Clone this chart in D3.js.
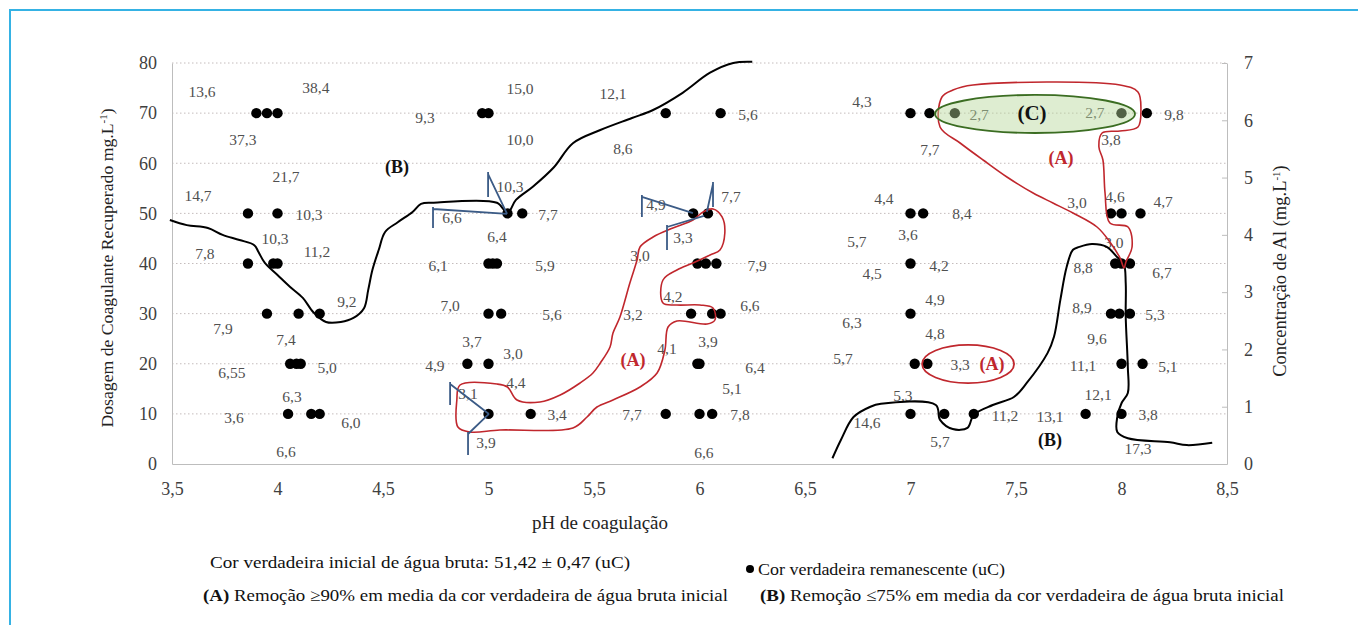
<!DOCTYPE html>
<html lang="pt">
<head>
<meta charset="utf-8">
<title>pH de coagulação x dosagem</title>
<script src="https://cdn.jsdelivr.net/npm/d3@7"></script>
<style>
  body { margin:0; background:#fff; }
</style>
</head>
<body>
<script>
// dose levels and pH of each jar test point (cor verdadeira remanescente)
var doses = [70, 50, 40, 30, 20, 10];
var ph70 = [3.90, 3.95, 4.00, 4.97, 5.00, 5.84, 6.10, 7.00, 7.09, 7.21, 8.00, 8.12];
var ph50 = [3.86, 4.00, 5.09, 5.16, 5.97, 6.04, 7.00, 7.06, 7.95, 8.00, 8.09];
var ph40 = [3.86, 3.98, 4.00, 5.00, 5.02, 5.04, 5.99, 6.03, 6.08, 7.00, 7.97, 8.00, 8.04];
var ph30 = [3.95, 4.10, 4.20, 5.00, 5.06, 5.96, 6.06, 6.10, 7.00, 7.95, 7.99, 8.04];
var ph20 = [4.06, 4.09, 4.11, 4.90, 5.00, 5.99, 6.00, 7.02, 7.08, 8.00, 8.10];
var ph10 = [4.05, 4.16, 4.20, 5.00, 5.20, 5.84, 6.00, 6.06, 7.00, 7.16, 7.30, 7.83, 8.00];

// value labels [pH, dose, text]
var colorLabels = [
  [3.642,74.41,"13,6"],[4.182,75.21,"38,4"],[3.836,64.64,"37,3"],[4.040,57.26,"21,7"],
  [3.623,53.47,"14,7"],[4.149,49.68,"10,3"],[3.988,44.89,"10,3"],[3.656,42.09,"7,8"],
  [4.187,42.49,"11,2"],[4.329,32.32,"9,2"],[3.742,27.13,"7,9"],[4.040,24.74,"7,4"],
  [3.784,18.35,"6,55"],[4.235,19.35,"5,0"],[4.069,13.37,"6,3"],[3.794,9.18,"3,6"],
  [4.348,8.18,"6,0"],[4.040,2.59,"6,6"],
  [4.699,69.03,"9,3"],[5.149,75.01,"15,0"],[5.149,64.64,"10,0"],[5.102,55.46,"10,3"],
  [4.827,49.08,"6,6"],[5.282,49.68,"7,7"],[5.040,45.29,"6,4"],[4.761,39.70,"6,1"],
  [5.268,39.70,"5,9"],[4.818,31.72,"7,0"],[5.301,29.73,"5,6"],[4.922,24.34,"3,7"],
  [5.116,22.14,"3,0"],[4.746,19.75,"4,9"],[5.130,16.16,"4,4"],[4.903,13.97,"3,1"],
  [5.325,9.78,"3,4"],[4.988,4.19,"3,9"],
  [5.590,74.01,"12,1"],[6.230,69.63,"5,6"],[5.637,63.04,"8,6"],[5.794,51.87,"4,9"],
  [6.149,53.27,"7,7"],[5.922,45.09,"3,3"],[5.718,41.50,"3,0"],[6.273,39.70,"7,9"],
  [5.874,33.32,"4,2"],[6.239,31.72,"6,6"],[5.685,29.73,"3,2"],[5.846,23.14,"4,1"],
  [6.040,24.34,"3,9"],[6.263,19.35,"6,4"],[6.154,15.16,"5,1"],[5.680,9.78,"7,7"],
  [6.192,9.78,"7,8"],[6.021,2.39,"6,6"],
  [6.770,72.22,"4,3"],[7.325,69.63,"2,7"],[7.874,70.22,"2,7"],[8.249,69.63,"9,8"],
  [7.092,62.84,"7,7"],[7.950,64.64,"3,8"],[6.874,52.87,"4,4"],[7.244,49.88,"8,4"],
  [7.789,52.07,"3,0"],[7.969,53.27,"4,6"],[8.197,52.27,"4,7"],[6.746,44.29,"5,7"],
  [6.988,45.69,"3,6"],[7.964,44.09,"3,0"],[6.818,37.91,"4,5"],[7.135,39.70,"4,2"],
  [7.116,32.72,"4,9"],[6.723,28.13,"6,3"],[7.116,26.13,"4,8"],[6.680,20.95,"5,7"],
  [7.235,19.95,"3,3"],[6.964,13.57,"5,3"],[6.794,8.18,"14,6"],[7.448,9.58,"11,2"],
  [7.140,4.39,"5,7"],[7.818,39.30,"8,8"],[8.192,38.30,"6,7"],[7.813,31.32,"8,9"],
  [8.159,29.73,"5,3"],[7.884,24.94,"9,6"],[7.818,19.75,"11,1"],[8.220,19.55,"5,1"],
  [7.889,13.77,"12,1"],[7.661,9.38,"13,1"],[8.126,9.78,"3,8"],[8.078,3.19,"17,3"]
];

// region tags [pH, dose, text, colour]
var regionTags = [
  [4.566,59.25,"(B)","#111"],[5.685,20.75,"(A)","#c0272d"],[7.576,70.03,"(C)","#111"],
  [7.713,61.05,"(A)","#c0272d"],[7.386,19.95,"(A)","#c0272d"],[7.661,4.79,"(B)","#111"]
];

// Al concentration curves [pH, Al mg/L]
var alCurve1 = [[3.49,4.26],[3.57,4.17],[3.67,4.12],[3.74,4.00],[3.82,3.91],[3.89,3.82],
  [3.91,3.70],[3.94,3.51],[4.00,3.30],[4.06,3.09],[4.12,2.90],[4.17,2.65],[4.23,2.48],
  [4.30,2.48],[4.36,2.55],[4.41,2.72],[4.43,3.04],[4.45,3.39],[4.48,3.74],[4.51,4.05],
  [4.57,4.22],[4.64,4.40],[4.68,4.54],[4.74,4.56],[5.04,4.56],[5.09,4.38],[5.13,4.61],
  [5.21,4.84],[5.31,5.18],[5.40,5.60],[5.53,5.83],[5.68,6.04],[5.78,6.18],[5.92,6.48],
  [6.05,6.83],[6.16,7.00],[6.25,7.02]];
var alCurve2 = [[6.63,0.10],[6.67,0.42],[6.73,0.82],[6.81,1.00],[6.86,1.05],[7.12,1.03],
  [7.14,0.77],[7.20,0.61],[7.27,0.63],[7.30,0.86],[7.39,1.03],[7.49,1.17],[7.55,1.41],
  [7.65,1.94],[7.68,2.22],[7.71,2.86],[7.74,3.44],[7.77,3.74],[7.80,3.79],[7.86,3.84],
  [7.93,3.79],[7.98,3.61],[8.01,3.51],[8.02,3.16],[8.02,2.57],[8.03,1.69],[8.03,1.24],
  [8.00,1.06],[7.98,0.82],[7.98,0.56],[8.03,0.45],[8.23,0.38],[8.31,0.33],[8.43,0.37]];

// hand drawn outlines of region (A) [pH, dose]
var regionA1 = [[4.865,15.76],[5.04,15.96],[5.09,15.36],[5.135,12.77],[5.244,12.37],
  [5.34,13.77],[5.434,16.16],[5.495,18.15],[5.53,20.15],[5.576,23.34],[5.59,26.13],
  [5.623,29.33],[5.67,36.11],[5.704,40.70],[5.718,43.29],[5.78,45.29],[5.874,47.08],
  [5.969,48.68],[6.017,50.27],[6.064,50.87],[6.107,49.28],[6.12,46.08],[6.097,42.69],
  [6.05,41.7],[5.969,40.10],[5.893,38.70],[5.827,36.71],[5.827,32.12],[5.893,31.72],
  [6.002,31.72],[6.064,31.12],[6.073,28.73],[6.036,27.93],[5.893,28.53],[5.851,27.33],
  [5.836,22.74],[5.799,18.15],[5.718,15.36],[5.59,12.77],[5.514,11.37],[5.467,9.38],
  [5.40,7.18],[5.054,6.78],[4.912,6.38],[4.855,7.38],[4.85,12.77]];
var regionA2 = [[7.296,75.61],[7.993,75.61],[8.078,74.21],[8.092,70.62],[8.078,67.23],
  [7.993,66.43],[7.908,66.03],[7.893,63.24],[7.912,60.65],[7.922,54.06],[7.945,48.08],
  [8.031,47.28],[8.05,43.29],[8.021,40.30],[8.012,39.10],[7.993,41.10],[7.945,44.29],
  [7.884,47.28],[7.770,50.07],[7.675,52.07],[7.581,54.06],[7.457,57.26],[7.344,60.65],
  [7.235,64.04],[7.140,67.23],[7.149,73.22],[7.201,74.61]];
// ellipses [pH, dose, half width pH, half height dose]
var ellipseA = [7.273, 19.95, 0.218, 3.8];
var ellipseC = [7.590, 69.83, 0.474, 3.8];

// blue markers: [[tick top],[tick bottom],[arm end at dot]]
var blueMarks = [
  [[4.737,51.27],[4.737,47.08],[5.088,49.88]],
  [[4.998,58.25],[4.998,53.27],[5.088,49.88]],
  [[5.727,53.67],[5.727,49.28],[5.969,50.07]],
  [[5.846,47.68],[5.846,42.69],[6.021,49.48]],
  [[6.064,56.26],[6.064,51.27],[6.035,50.27]],
  [[4.818,16.36],[4.818,11.77],[5.002,9.98]],
  [[4.903,6.38],[4.903,1.80],[5.002,9.98]]
];

var xTicks = [3.5,4,4.5,5,5.5,6,6.5,7,7.5,8,8.5];
var yTicks = [0,10,20,30,40,50,60,70,80];
var y2Ticks = [0,1,2,3,4,5,6,7];

var serif = '"Liberation Serif", "Tinos", "Times New Roman", Times, "DejaVu Serif", serif';
var width = 1358, height = 625;
var svg = d3.select("body").append("svg").attr("width", width).attr("height", height)
   .style("font-family", serif);

var x = d3.scaleLinear().domain([3.5, 8.5]).range([172, 1227]);
var y = d3.scaleLinear().domain([0, 80]).range([464, 63]);
var y2 = d3.scaleLinear().domain([0, 7]).range([464, 63]);

// frame
svg.append("rect").attr("x",10).attr("y",10).attr("width",1400).attr("height",700)
   .attr("fill","none").attr("stroke","#35b2e4").attr("stroke-width",2);

// grid
svg.selectAll(".grid").data(yTicks.filter(function(d){ return d > 0; })).enter()
   .append("line").attr("class","grid")
   .attr("x1",x(3.5)).attr("x2",x(8.5))
   .attr("y1",function(d){ return y(d); }).attr("y2",function(d){ return y(d); })
   .attr("stroke","#c4bcbc").attr("stroke-width",1).attr("stroke-dasharray","1.5,2.5");

// axes
var xAxis = svg.append("g").attr("transform","translate(0,"+y(0)+")")
   .call(d3.axisBottom(x).tickValues(xTicks).tickSize(0).tickPadding(18)
        .tickFormat(function(d){ return String(d).replace(".", ","); }));
var yAxis = svg.append("g").attr("transform","translate("+x(3.5)+",0)")
   .call(d3.axisLeft(y).tickValues(yTicks).tickSize(0).tickPadding(15));
var y2Axis = svg.append("g").attr("transform","translate("+x(8.5)+",0)")
   .call(d3.axisRight(y2).tickValues(y2Ticks).tickFormat(d3.format("d"))
        .tickSizeInner(-5).tickSizeOuter(0).tickPadding(17));
[xAxis, yAxis, y2Axis].forEach(function(a){
  a.attr("font-family", null);
  a.select(".domain").attr("stroke","#bdbdbd");
  a.selectAll(".tick line").attr("stroke","#bdbdbd");
  a.selectAll("text").attr("font-size",18).attr("fill","#404040");
});

// axis titles
svg.append("text").attr("x",600).attr("y",529).attr("text-anchor","middle")
   .attr("font-size",19).attr("fill","#222").text("pH de coagulação");
svg.append("text").attr("transform","translate(113,268) rotate(-90)").attr("text-anchor","middle")
   .attr("font-size",17.7).attr("fill","#222")
   .html('Dosagem de Coagulante Recuperado mg.L<tspan baseline-shift="super" font-size="11">-1</tspan>)');
svg.append("text").attr("transform","translate(1286,271) rotate(-90)").attr("text-anchor","middle")
   .attr("font-size",18.5).attr("fill","#222")
   .html('Concentração de Al (mg.L<tspan baseline-shift="super" font-size="11">-1</tspan>)');

// value labels
svg.selectAll(".vl").data(colorLabels).enter().append("text").attr("class","vl")
   .attr("x",function(d){ return x(d[0]); }).attr("y",function(d){ return y(d[1]); })
   .attr("text-anchor","middle").attr("dominant-baseline","central")
   .attr("font-size",15.5).attr("fill","#505050").text(function(d){ return d[2]; });

// points
var phLists = [ph70, ph50, ph40, ph30, ph20, ph10];
var points = [];
doses.forEach(function(dv, i){ phLists[i].forEach(function(p){ points.push([p, dv]); }); });
svg.selectAll(".pt").data(points).enter().append("circle").attr("class","pt")
   .attr("cx",function(d){ return x(d[0]); }).attr("cy",function(d){ return y(d[1]); })
   .attr("r",5.2).attr("fill","#000");

// Al curves
var lineAl = d3.line().x(function(d){ return x(d[0]); }).y(function(d){ return y2(d[1]); })
   .curve(d3.curveCatmullRom);
[alCurve1, alCurve2].forEach(function(c){
  svg.append("path").attr("d",lineAl(c)).attr("fill","none").attr("stroke","#000").attr("stroke-width",2);
});

// region (A) outlines
var lineReg = d3.line().x(function(d){ return x(d[0]); }).y(function(d){ return y(d[1]); })
   .curve(d3.curveCatmullRomClosed);
[regionA1, regionA2].forEach(function(r){
  svg.append("path").attr("d",lineReg(r)).attr("fill","none").attr("stroke","#c0272d").attr("stroke-width",1.6);
});
svg.append("ellipse").attr("cx",x(ellipseA[0])).attr("cy",y(ellipseA[1]))
   .attr("rx",x(ellipseA[0]+ellipseA[2])-x(ellipseA[0])).attr("ry",y(0)-y(ellipseA[3]))
   .attr("fill","none").attr("stroke","#c0272d").attr("stroke-width",1.8);
svg.append("ellipse").attr("cx",x(ellipseC[0])).attr("cy",y(ellipseC[1]))
   .attr("rx",x(ellipseC[0]+ellipseC[2])-x(ellipseC[0])).attr("ry",y(0)-y(ellipseC[3]))
   .attr("fill","#b5d69a").attr("fill-opacity",0.45).attr("stroke","#3b6d22").attr("stroke-width",1.8);

// blue markers
blueMarks.forEach(function(m){
  svg.append("path")
     .attr("d","M"+x(m[0][0])+","+y(m[0][1])+"L"+x(m[1][0])+","+y(m[1][1])+
               "M"+x(m[0][0])+","+(y(m[0][1])+2)+"L"+x(m[2][0])+","+y(m[2][1]))
     .attr("fill","none").attr("stroke","#3b5b86").attr("stroke-width",1.8);
});

// region tags
svg.selectAll(".tag").data(regionTags).enter().append("text").attr("class","tag")
   .attr("x",function(d){ return x(d[0]); }).attr("y",function(d){ return y(d[1]); })
   .attr("text-anchor","middle").attr("dominant-baseline","central")
   .attr("font-size",function(d){ return d[2] === "(C)" ? 21 : 18; })
   .attr("font-weight","bold").attr("fill",function(d){ return d[3]; })
   .text(function(d){ return d[2]; });

// notes
svg.append("text").attr("x",210).attr("y",568).attr("font-size",17).attr("fill","#111")
   .attr("textLength",420).attr("lengthAdjust","spacingAndGlyphs")
   .text("Cor verdadeira inicial de água bruta: 51,42 ± 0,47 (uC)");
svg.append("circle").attr("cx",750).attr("cy",569).attr("r",4).attr("fill","#000");
svg.append("text").attr("x",758).attr("y",575).attr("font-size",17).attr("fill","#111")
   .attr("textLength",247).attr("lengthAdjust","spacingAndGlyphs")
   .text("Cor verdadeira remanescente (uC)");
svg.append("text").attr("x",203).attr("y",601).attr("font-size",17).attr("fill","#111")
   .attr("textLength",525).attr("lengthAdjust","spacingAndGlyphs")
   .html('<tspan font-weight="bold">(A)</tspan> Remoção ≥90% em media da cor verdadeira de água bruta inicial');
svg.append("text").attr("x",760).attr("y",601).attr("font-size",17).attr("fill","#111")
   .attr("textLength",524).attr("lengthAdjust","spacingAndGlyphs")
   .html('<tspan font-weight="bold">(B)</tspan> Remoção ≤75% em media da cor verdadeira de água bruta inicial');
</script>
</body>
</html>
